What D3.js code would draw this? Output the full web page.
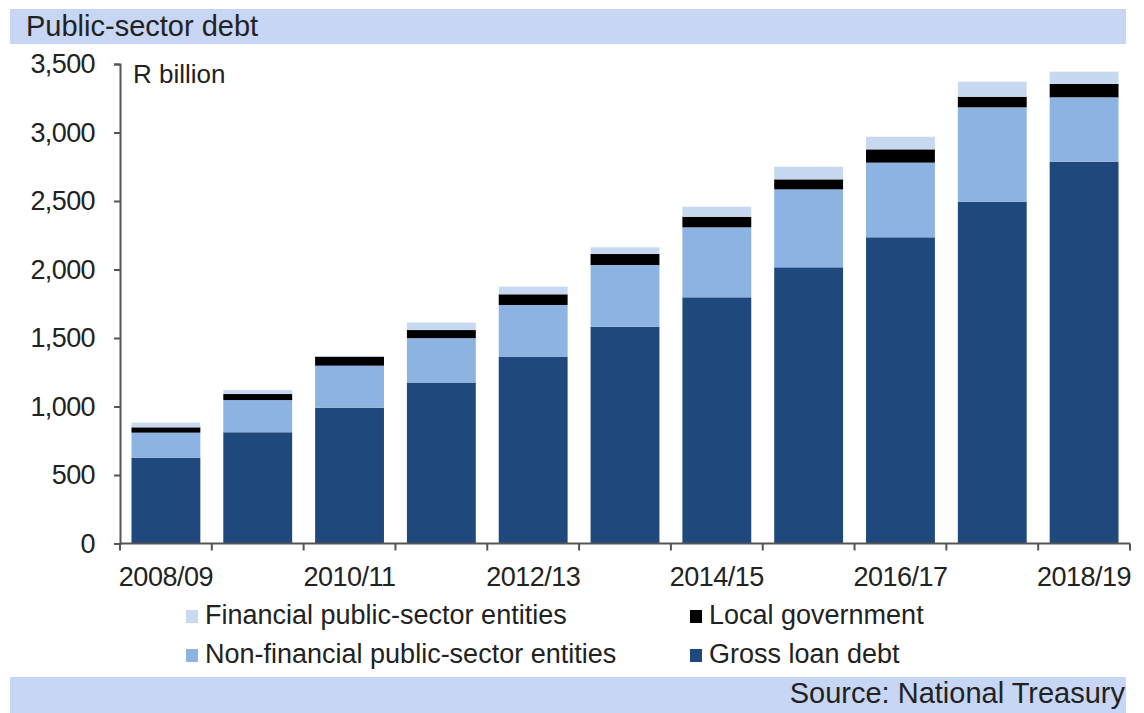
<!DOCTYPE html>
<html>
<head>
<meta charset="utf-8">
<script src="https://cdn.jsdelivr.net/npm/d3@7"></script>
<style>
  html, body { margin: 0; padding: 0; background: #fff; }
  svg { display: block; font-family: "Liberation Sans", Arial, sans-serif; }
</style>
</head>
<body>
<svg id="chart" width="1144" height="713"></svg>
<script>
// Fiscal years on the category axis
const years = ["2008/09","2009/10","2010/11","2011/12","2012/13","2013/14",
               "2014/15","2015/16","2016/17","2017/18","2018/19"];
// Debt components, R billion (stacked bottom to top)
const grossLoanDebt = [626, 812, 991, 1175, 1364, 1582, 1797, 2016, 2235, 2495, 2787];
const nonFinancial  = [183, 235, 307, 324, 377, 451, 511, 569, 545, 689, 470];
const localGov      = [39, 44, 66, 59, 78, 80, 77, 73, 97, 77, 97];
const financial     = [34, 29, 5, 55, 56, 49, 73, 92, 92, 110, 90];
const yTicks = [0, 500, 1000, 1500, 2000, 2500, 3000, 3500];
const xLabelYears = ["2008/09","2010/11","2012/13","2014/15","2016/17","2018/19"];

const seriesKeys = ["gross", "nonfin", "local", "fin"];
const seriesNames = {
  fin: "Financial public-sector entities",
  local: "Local government",
  nonfin: "Non-financial public-sector entities",
  gross: "Gross loan debt"
};
const colors = { gross: "#1f497d", nonfin: "#8db3e2", local: "#000000", fin: "#c6d9f1" };

const rows = years.map((yr, i) => ({
  year: yr, gross: grossLoanDebt[i], nonfin: nonFinancial[i], local: localGov[i], fin: financial[i]
}));

const svg = d3.select("#chart");
const plotLeft = 120, plotRight = 1130, plotTop = 64, plotBottom = 543.5;
const textColor = "#222";
const fontSize = 27;

// Header and footer bands
svg.append("rect").attr("x", 10).attr("y", 9).attr("width", 1116).attr("height", 35).attr("fill", "#c6d6f4");
svg.append("text").attr("x", 26).attr("y", 36).attr("font-size", 29).attr("fill", textColor)
  .text("Public-sector debt");
svg.append("rect").attr("x", 10).attr("y", 677).attr("width", 1116).attr("height", 36).attr("fill", "#c6d6f4");
svg.append("text").attr("x", 1125).attr("y", 703).attr("text-anchor", "end").attr("font-size", 29).attr("fill", textColor)
  .text("Source: National Treasury");

const x = d3.scaleBand().domain(years).range([plotLeft, plotRight]).paddingInner(0.25).paddingOuter(0.125);
const y = d3.scaleLinear().domain([0, 3500]).range([plotBottom, plotTop]);

const stacked = d3.stack().keys(seriesKeys)(rows);

svg.append("g").selectAll("g").data(stacked).join("g")
  .attr("fill", d => colors[d.key])
  .selectAll("rect").data(d => d).join("rect")
  .attr("x", d => x(d.data.year))
  .attr("width", x.bandwidth())
  .attr("y", d => y(d[1]))
  .attr("height", d => y(d[0]) - y(d[1]));

// Y axis
const yAxis = svg.append("g").attr("transform", `translate(${plotLeft},0)`)
  .call(d3.axisLeft(y).tickValues(yTicks).tickFormat(d3.format(",")).tickSize(6).tickPadding(19));
yAxis.selectAll("text").attr("font-size", fontSize).attr("fill", textColor)
  .attr("font-family", "Liberation Sans, Arial, sans-serif").attr("letter-spacing", -0.6);
yAxis.selectAll("line, path").attr("stroke", "#555").attr("stroke-width", 2);

// X axis: ticks at category boundaries, labels every second year
const step = x.step();
const boundaries = d3.range(years.length + 1).map(i => plotLeft + i * step);
const xg = svg.append("g");
xg.append("line").attr("x1", plotLeft).attr("x2", plotRight).attr("y1", plotBottom).attr("y2", plotBottom)
  .attr("stroke", "#555").attr("stroke-width", 2);
xg.selectAll("line.tick").data(boundaries).join("line").attr("class", "tick")
  .attr("x1", d => d).attr("x2", d => d).attr("y1", plotBottom).attr("y2", plotBottom + 7)
  .attr("stroke", "#555").attr("stroke-width", 2);
xg.selectAll("text").data(xLabelYears).join("text")
  .attr("x", d => x(d) + x.bandwidth() / 2).attr("y", 586)
  .attr("text-anchor", "middle").attr("font-size", fontSize).attr("fill", textColor)
  .attr("letter-spacing", -0.5)
  .text(d => d);

svg.append("text").attr("x", 133).attr("y", 83).attr("font-size", 26).attr("fill", textColor).text("R billion");

// Legend
const legendItems = [
  { key: "fin", x: 186, y: 624 }, { key: "local", x: 690, y: 624 },
  { key: "nonfin", x: 186, y: 663 }, { key: "gross", x: 690, y: 663 }
];
const lg = svg.append("g").selectAll("g").data(legendItems).join("g")
  .attr("transform", d => `translate(${d.x},${d.y})`);
lg.append("rect").attr("x", 0).attr("y", -14).attr("width", 12).attr("height", 13).attr("fill", d => colors[d.key]);
lg.append("text").attr("x", 19).attr("y", 0).attr("font-size", 27).attr("fill", textColor)
  .text(d => seriesNames[d.key]);
</script>
</body>
</html>
